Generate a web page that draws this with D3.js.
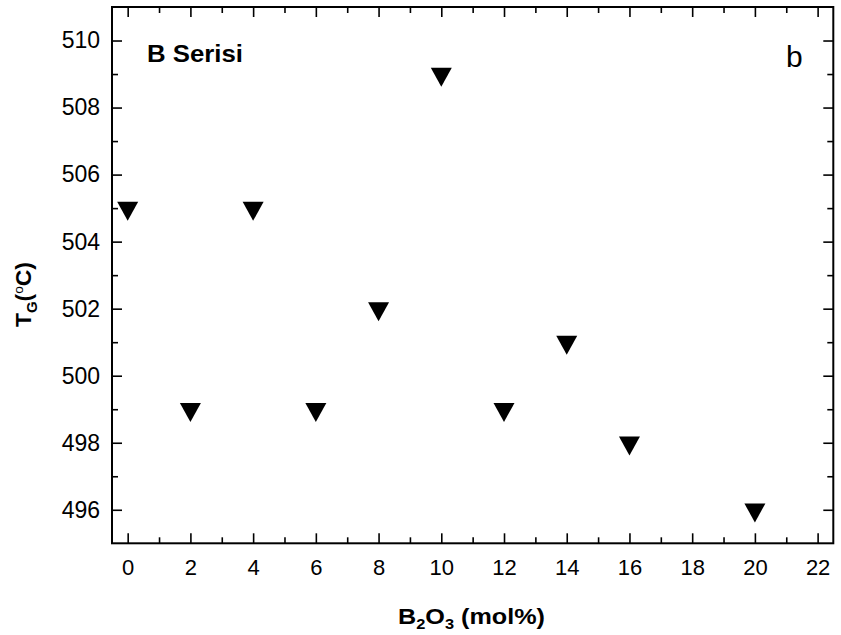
<!DOCTYPE html>
<html><head><meta charset="utf-8">
<script src="https://cdn.jsdelivr.net/npm/d3@7"></script>
<style>
html,body{margin:0;padding:0;background:#fff;}
svg{display:block;font-family:"Liberation Sans",Arial,sans-serif;}
</style></head>
<body>
<svg id="c" width="841" height="635"></svg>
<script>
const molB2O3 = [0, 2, 4, 6, 8, 10, 12, 14, 16, 20];
const tgValues = [505, 499, 505, 499, 502, 509, 499, 501, 498, 496];
const xTickLabels = [0, 2, 4, 6, 8, 10, 12, 14, 16, 18, 20, 22];
const xMinorTicks = [1, 3, 5, 7, 9, 11, 13, 15, 17, 19, 21];
const yTickLabels = [496, 498, 500, 502, 504, 506, 508, 510];
const yMinorTicks = [497, 499, 501, 503, 505, 507, 509];

const svg = d3.select("#c");
const L = 112, R = 833.3, T = 7, B = 543.3;
const x = d3.scaleLinear().domain([-0.5, 22.5]).range([L, R]);
const y = d3.scaleLinear().domain([495, 511]).range([B, T]);

function styleAxis(fs){
  return g => {
    g.select(".domain").remove();
    g.selectAll(".tick line").attr("stroke","#000").attr("stroke-width",1.6);
    g.selectAll("text").attr("fill","#000").attr("font-size",fs)
     .attr("font-family","'Liberation Sans', Arial, sans-serif");
  };
}

svg.append("g").attr("transform",`translate(0,${B})`)
  .call(d3.axisBottom(x).tickValues(xTickLabels).tickSize(-10).tickPadding(16).tickFormat(d3.format("d"))).call(styleAxis(22));
svg.append("g").attr("transform",`translate(0,${B})`)
  .call(d3.axisBottom(x).tickValues(xMinorTicks).tickSize(-6).tickFormat("")).call(styleAxis(22));
svg.append("g").attr("transform",`translate(0,${T})`)
  .call(d3.axisTop(x).tickValues(xTickLabels).tickSize(-10).tickFormat("")).call(styleAxis(22));
svg.append("g").attr("transform",`translate(0,${T})`)
  .call(d3.axisTop(x).tickValues(xMinorTicks).tickSize(-6).tickFormat("")).call(styleAxis(22));
svg.append("g").attr("transform",`translate(${L},0)`)
  .call(d3.axisLeft(y).tickValues(yTickLabels).tickSize(-10).tickPadding(12).tickFormat(d3.format("d"))).call(styleAxis(23));
svg.append("g").attr("transform",`translate(${L},0)`)
  .call(d3.axisLeft(y).tickValues(yMinorTicks).tickSize(-6).tickFormat("")).call(styleAxis(23));
svg.append("g").attr("transform",`translate(${R},0)`)
  .call(d3.axisRight(y).tickValues(yTickLabels).tickSize(-10).tickFormat("")).call(styleAxis(23));
svg.append("g").attr("transform",`translate(${R},0)`)
  .call(d3.axisRight(y).tickValues(yMinorTicks).tickSize(-6).tickFormat("")).call(styleAxis(23));

svg.append("rect").attr("x",L).attr("y",T).attr("width",R-L).attr("height",B-T)
  .attr("fill","none").attr("stroke","#000").attr("stroke-width",2);

const w = 21, h = 19;
const tri = `M${-w/2},${-h/3}L${w/2},${-h/3}L0,${2*h/3}Z`;
svg.append("g").selectAll("path").data(molB2O3.map((d,i)=>[d,tgValues[i]])).join("path")
  .attr("d",tri).attr("fill","#000")
  .attr("transform",d=>`translate(${x(d[0])},${y(d[1])})`);

svg.append("text").attr("x",147).attr("y",62).attr("font-size",23.5).attr("font-weight","bold")
  .attr("fill","#000").attr("textLength",96).attr("lengthAdjust","spacingAndGlyphs").text("B Serisi");
svg.append("text").attr("x",786).attr("y",67).attr("font-size",30).attr("fill","#000").text("b");

const xt = svg.append("text").attr("x",398).attr("y",624)
  .attr("font-size",21.5).attr("font-weight","bold").attr("fill","#000")
  .attr("textLength",147).attr("lengthAdjust","spacingAndGlyphs");
xt.append("tspan").text("B");
xt.append("tspan").attr("font-size",14).attr("dy",5).text("2");
xt.append("tspan").attr("dy",-5).text("O");
xt.append("tspan").attr("font-size",14).attr("dy",5).text("3");
xt.append("tspan").attr("dy",-5).text(" (mol%)");

const yt = svg.append("text").attr("transform","translate(31,327) rotate(-90)")
  .attr("font-size",21.5).attr("font-weight","bold").attr("fill","#000")
  .attr("textLength",65).attr("lengthAdjust","spacingAndGlyphs");
yt.append("tspan").text("T");
yt.append("tspan").attr("font-size",14).attr("dy",6).text("G");
yt.append("tspan").attr("dy",-6).text("(");
yt.append("tspan").attr("font-size",13).attr("font-weight","normal").attr("dy",-8).text("o");
yt.append("tspan").attr("dy",8).text("C)");
</script>
</body></html>
